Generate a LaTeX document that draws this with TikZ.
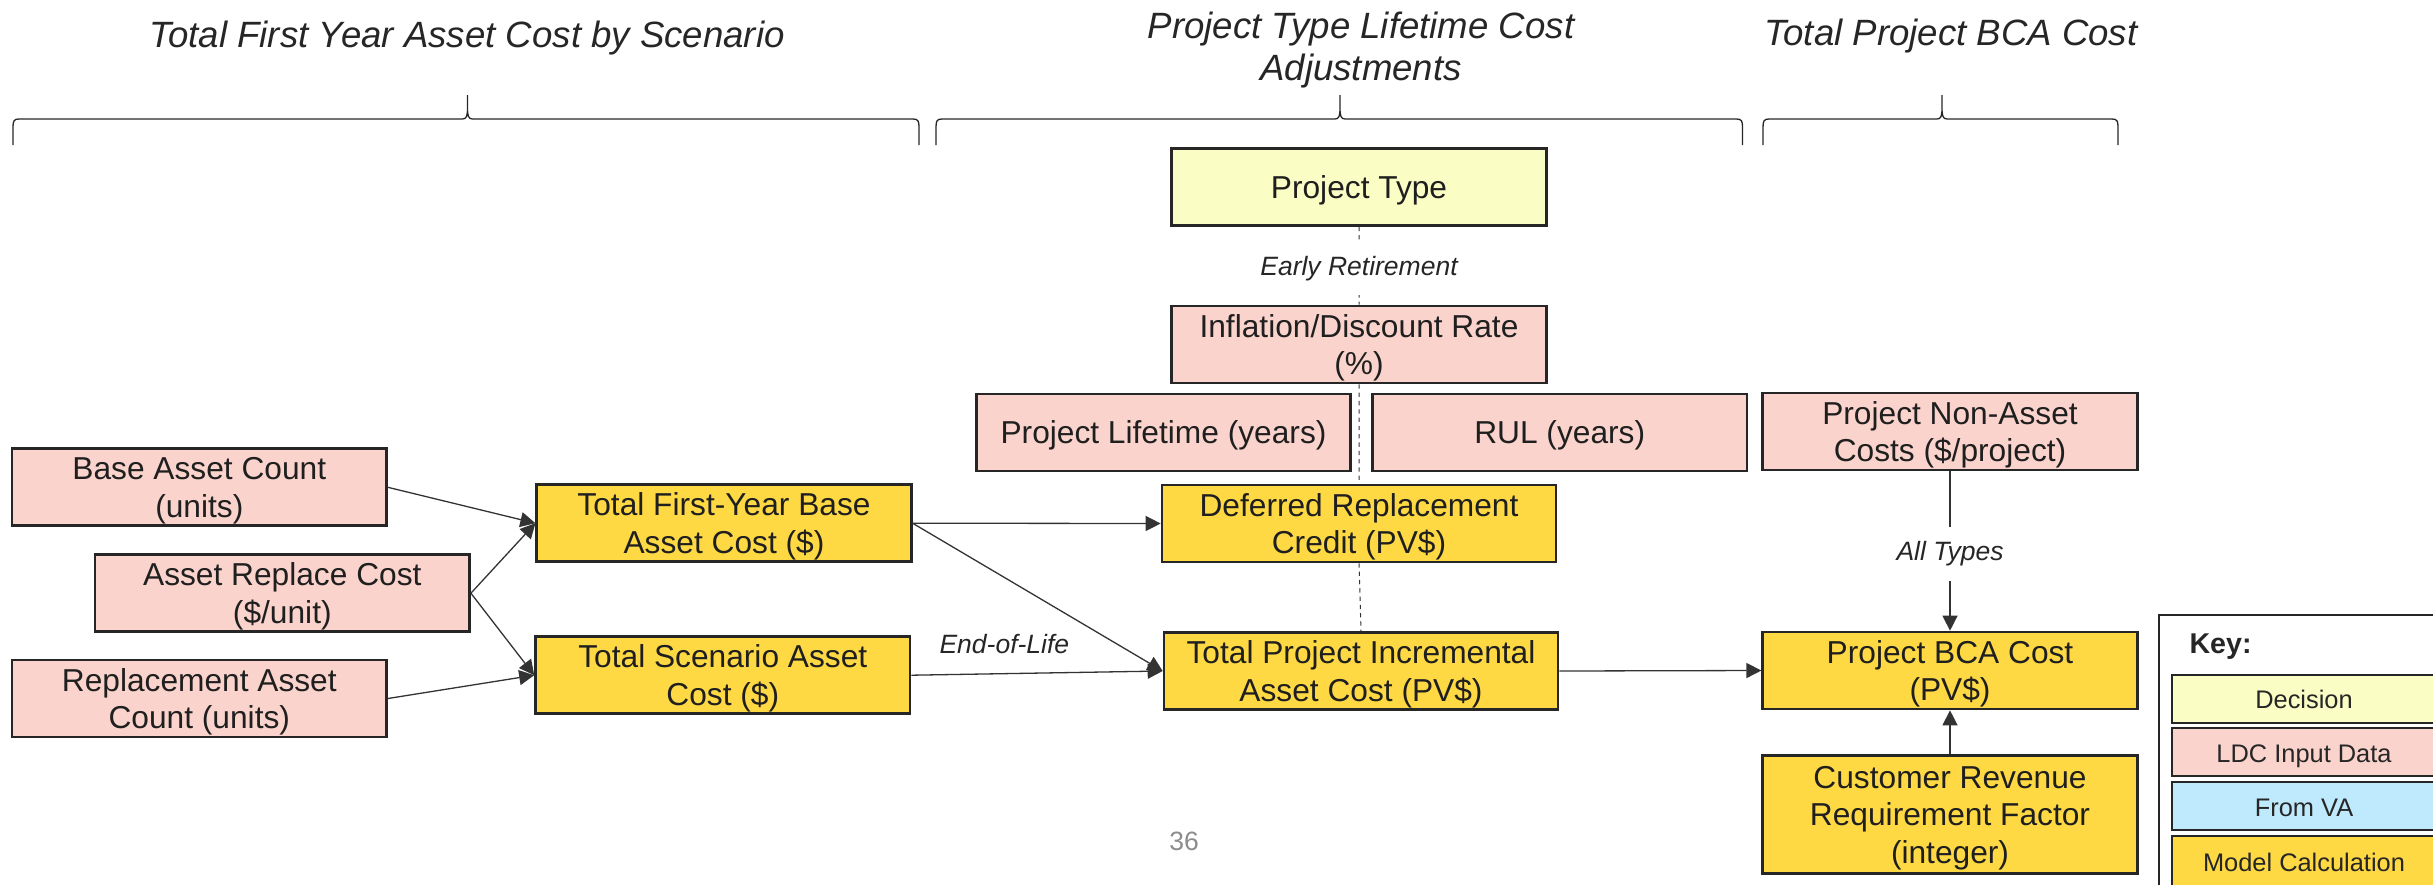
\documentclass[tikz,border=0pt]{standalone}
\usepackage{fontspec}
\setmainfont{Liberation Sans}
\usetikzlibrary{arrows.meta}
\definecolor{decfill}{HTML}{FAFEC4}
\definecolor{ldcfill}{HTML}{FAD4CC}
\definecolor{vafill}{HTML}{BFE9FD}
\definecolor{calcfill}{HTML}{FED944}
\definecolor{edgegray}{HTML}{262626}
\definecolor{linegray}{HTML}{333333}
\definecolor{pagegray}{HTML}{8C8C8C}
\begin{document}
\begin{tikzpicture}[x=1pt, y=-1pt,
  box/.style={rectangle, draw=edgegray, line width=2.7pt, minimum width=374.5pt, minimum height=77pt, inner sep=4pt, align=center, text depth=-1pt, text=black!88, font=\fontsize{31.7}{37.5}\selectfont},
  ldc/.style={box, fill=ldcfill},
  calcbox/.style={box, fill=calcfill},
  decision/.style={box, fill=decfill},
  arr/.style={draw=linegray, line width=1.3pt, -{Triangle[length=15pt, width=15pt]}},
  dline/.style={draw=linegray, line width=1pt, dash pattern=on 4.3pt off 4pt},
  lbl/.style={font=\fontsize{26.5}{30}\selectfont\itshape, text=black!85, text height=19.5pt, text depth=5.6pt, inner xsep=4pt, inner ysep=14pt},
  title/.style={font=\fontsize{36.6}{42}\selectfont\itshape, text=black!85, align=center},
  brace/.style={draw=edgegray, line width=1.3pt},
  keyrow/.style={rectangle, draw=edgegray, line width=2pt, minimum width=264pt, minimum height=48pt, inner sep=0pt, text height=20.5pt, text depth=0pt, text=black!85, font=\fontsize{25.4}{28}\selectfont}]
\useasboundingbox (0,0) rectangle (2433,884);

% section titles
\node[title] (t1) at (467,38) {Total First Year Asset Cost by Scenario};
\node[title] (t2) at (1361,50) {Project Type Lifetime Cost\\Adjustments};
\node[title] (t3) at (1951,36.5) {Total Project BCA Cost};

% braces under the titles
\draw[brace] (13,145) -- (13,127) .. controls (13,121) and (14,119) .. (19,119) -- (462.5,119) .. controls (466.5,119) and (467.5,116) .. (467.5,108) -- (467.5,95) -- (467.5,108) .. controls (467.5,116) and (468.5,119) .. (472.5,119) -- (913,119) .. controls (918,119) and (919,121) .. (919,127) -- (919,145);
\draw[brace] (936,145) -- (936,127) .. controls (936,121) and (937,119) .. (942,119) -- (1335,119) .. controls (1339,119) and (1340,116) .. (1340,108) -- (1340,95) -- (1340,108) .. controls (1340,116) and (1341,119) .. (1345,119) -- (1736.5,119) .. controls (1741.5,119) and (1742.5,121) .. (1742.5,127) -- (1742.5,145);
\draw[brace] (1763,145) -- (1763,127) .. controls (1763,121) and (1764,119) .. (1769,119) -- (1937,119) .. controls (1941,119) and (1942,116) .. (1942,108) -- (1942,95) -- (1942,108) .. controls (1942,116) and (1943,119) .. (1947,119) -- (2112,119) .. controls (2117,119) and (2118,121) .. (2118,127) -- (2118,145);

% first year asset cost
\node[ldc] (bac) at (199.3,487.3) {Base Asset Count\\(units)};
\node[ldc] (arc) at (282.3,593.2) {Asset Replace Cost\\(\$/unit)};
\node[ldc] (rac) at (199.3,698.5) {Replacement Asset\\Count (units)};
\node[calcbox] (tfy) at (724,523.2) {Total First-Year Base\\Asset Cost (\$)};
\node[calcbox] (tsa) at (722.8,675.2) {Total Scenario Asset\\Cost (\$)};

% lifetime cost adjustments
\node[decision] (pt) at (1359,187) {Project Type};
\node[ldc] (infl) at (1359,344.5) {Inflation/Discount Rate\\(\%)};
\node[ldc] (plt) at (1163.5,432.5) {Project Lifetime (years)};
\node[ldc, anchor=west] (rul) at ([xshift=19pt]plt.east) {RUL (years)};
\node[calcbox, minimum width=394pt] (def) at (1359,523.5) {Deferred Replacement\\Credit (PV\$)};
\node[calcbox, minimum width=394pt] (inc) at (1361,671) {Total Project Incremental\\Asset Cost (PV\$)};

% project BCA cost
\node[ldc] (na) at (1950,431.5) {Project Non-Asset\\Costs (\$/project)};
\node[calcbox] (bca) at (1950,670.5) {Project BCA Cost\\(PV\$)};
\node[calcbox, minimum height=118pt, anchor=north] (crr) at ([yshift=-44pt]bca.south) {Customer Revenue\\Requirement Factor\\(integer)};

% connectors
\draw[arr] (bac.east) -- (tfy.west);
\draw[arr] (arc.east) -- (tfy.west);
\draw[arr] (arc.east) -- (tsa.west);
\draw[arr] (rac.east) -- (tsa.west);
\draw[arr] (tfy.east) -- (def.west);
\draw[arr] (tfy.east) -- (inc.west);
\draw[arr] (tsa.east) -- node[lbl, pos=0.37, above] (eol) {End-of-Life} (inc.west);
\draw[arr] (inc.east) -- (bca.west);
\draw[arr] (na.south) -- node[lbl, fill=white, yshift=-3pt] (alltypes) {All Types} (bca.north);
\draw[arr] (crr.north) -- (bca.south);
\draw[dline] (pt.south) -- node[lbl, fill=white, yshift=-3pt] (early) {Early Retirement} (infl.north) (infl.south) -- (def.north) (def.south) -- (inc.north);

% key
\node[draw=edgegray, line width=1.7pt, minimum width=320pt, minimum height=320pt, anchor=north west] (keyframe) at (2158,614) {};
\node[anchor=west, text=black!85, font=\bfseries\fontsize{28.6}{32}\selectfont] (keyttl) at (2186,646.7) {Key:};
\node[keyrow, fill=decfill] (kdec) at (2304,698.5) {Decision};
\node[keyrow, fill=ldcfill] (kldc) at (2304,752.3) {LDC Input Data};
\node[keyrow, fill=vafill] (kva) at (2304,806) {From VA};
\node[keyrow, fill=calcfill, minimum height=50pt] (kcalc) at (2304,861) {Model Calculation};

% page number
\node[text=pagegray, font=\fontsize{26.5}{30}\selectfont] (pgnum) at (1184,841) {36};
\end{tikzpicture}
\end{document}
